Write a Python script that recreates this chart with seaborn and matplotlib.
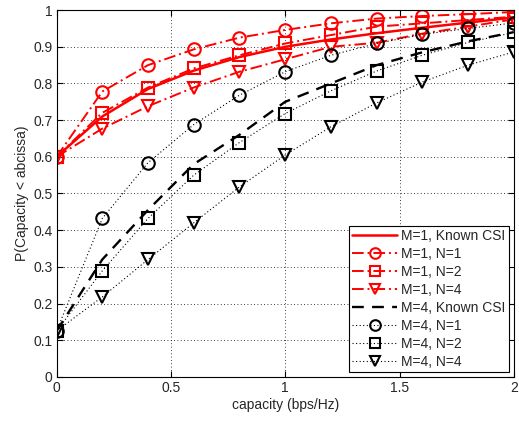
import numpy as np
import pandas as pd
import matplotlib
matplotlib.use("Agg")
import matplotlib.pyplot as plt
import seaborn as sns

# capacity axis (bps/Hz)
capacity = [0.0, 0.2, 0.4, 0.6, 0.8, 1.0, 1.2, 1.4, 1.6, 1.8, 2.0]

# M=1 curves
m1_known = [0.60, 0.71, 0.785, 0.835, 0.872, 0.900, 0.920, 0.937, 0.952, 0.966, 0.980]
m1_n1 = [0.60, 0.778, 0.850, 0.893, 0.925, 0.946, 0.964, 0.977, 0.984, 0.989, 0.995]
m1_n2 = [0.60, 0.720, 0.789, 0.841, 0.877, 0.909, 0.932, 0.955, 0.964, 0.973, 0.982]
m1_n4 = [0.60, 0.677, 0.738, 0.789, 0.832, 0.866, 0.900, 0.911, 0.936, 0.955, 0.975]

# M=4 curves
m4_known = [0.125, 0.32, 0.455, 0.58, 0.660, 0.750, 0.800, 0.850, 0.885, 0.915, 0.940]
m4_n1 = [0.125, 0.432, 0.584, 0.688, 0.768, 0.832, 0.877, 0.909, 0.934, 0.950, 0.965]
m4_n2 = [0.125, 0.289, 0.432, 0.550, 0.639, 0.718, 0.780, 0.834, 0.877, 0.912, 0.939]
m4_n4 = [0.125, 0.218, 0.320, 0.420, 0.518, 0.605, 0.682, 0.747, 0.804, 0.850, 0.886]

labels = ["M=1, Known CSI", "M=1, N=1", "M=1, N=2", "M=1, N=4",
          "M=4, Known CSI", "M=4, N=1", "M=4, N=2", "M=4, N=4"]

sns.set_style("white")
plt.rcParams["font.family"] = ["Liberation Sans", "DejaVu Sans"]
plt.rcParams["font.size"] = 10

fig = plt.figure(figsize=(5.19, 4.22), dpi=100)
ax = fig.add_axes([0.109, 0.107, 0.881, 0.869])

dashdot = (0, (6, 2, 1, 2))
dotted = (0, (1, 2.2))
styles = [
    dict(color="red", linestyle="-", marker=None, lw=1.8),
    dict(color="red", linestyle=dashdot, marker="o", lw=1.4),
    dict(color="red", linestyle=dashdot, marker="s", lw=1.4),
    dict(color="red", linestyle=dashdot, marker="v", lw=1.4),
    dict(color="black", linestyle=(0, (5, 3.5)), marker=None, lw=1.7),
    dict(color="black", linestyle=dotted, marker="o", lw=0.8),
    dict(color="black", linestyle=dotted, marker="s", lw=0.8),
    dict(color="black", linestyle=dotted, marker="v", lw=0.8),
]
series = [m1_known, m1_n1, m1_n2, m1_n4, m4_known, m4_n1, m4_n2, m4_n4]

for vals, lab, st in zip(series, labels, styles):
    df = pd.DataFrame({"capacity": capacity, "prob": vals})
    sns.lineplot(data=df, x="capacity", y="prob", ax=ax, label=lab,
                 color=st["color"], linestyle=st["linestyle"], linewidth=st["lw"],
                 marker=st["marker"], markersize=9, markerfacecolor="none",
                 markeredgecolor=st["color"], markeredgewidth=1.5)

ax.set_xlim(0, 2)
ax.set_ylim(0, 1)
ax.set_xticks([0, 0.5, 1, 1.5, 2])
ax.set_xticklabels(["0", "0.5", "1", "1.5", "2"])
ax.set_yticks(np.arange(0, 1.01, 0.1))
ax.set_yticklabels(["0", "0.1", "0.2", "0.3", "0.4", "0.5", "0.6", "0.7", "0.8", "0.9", "1"])
ax.grid(True, color="black", linestyle=(0, (1, 3)), linewidth=0.6)
ax.tick_params(direction="in", length=4, width=0.8, labelsize=10, color="black",
               top=True, right=True, bottom=True, left=True, pad=3)
for sp in ax.spines.values():
    sp.set_color("black")
    sp.set_linewidth(0.8)

ax.set_xlabel("capacity (bps/Hz)", fontsize=10, labelpad=2)
ax.set_ylabel("P(Capacity < abcissa)", fontsize=10, labelpad=3)

leg = ax.legend(loc="lower right", fontsize=10, frameon=True, fancybox=False,
                edgecolor="black", framealpha=1, borderaxespad=0.35,
                handlelength=3.2, handletextpad=0.3, labelspacing=0.28,
                borderpad=0.25, markerscale=0.85)
leg.get_frame().set_linewidth(0.8)

fig.savefig("out.png", dpi=100)
